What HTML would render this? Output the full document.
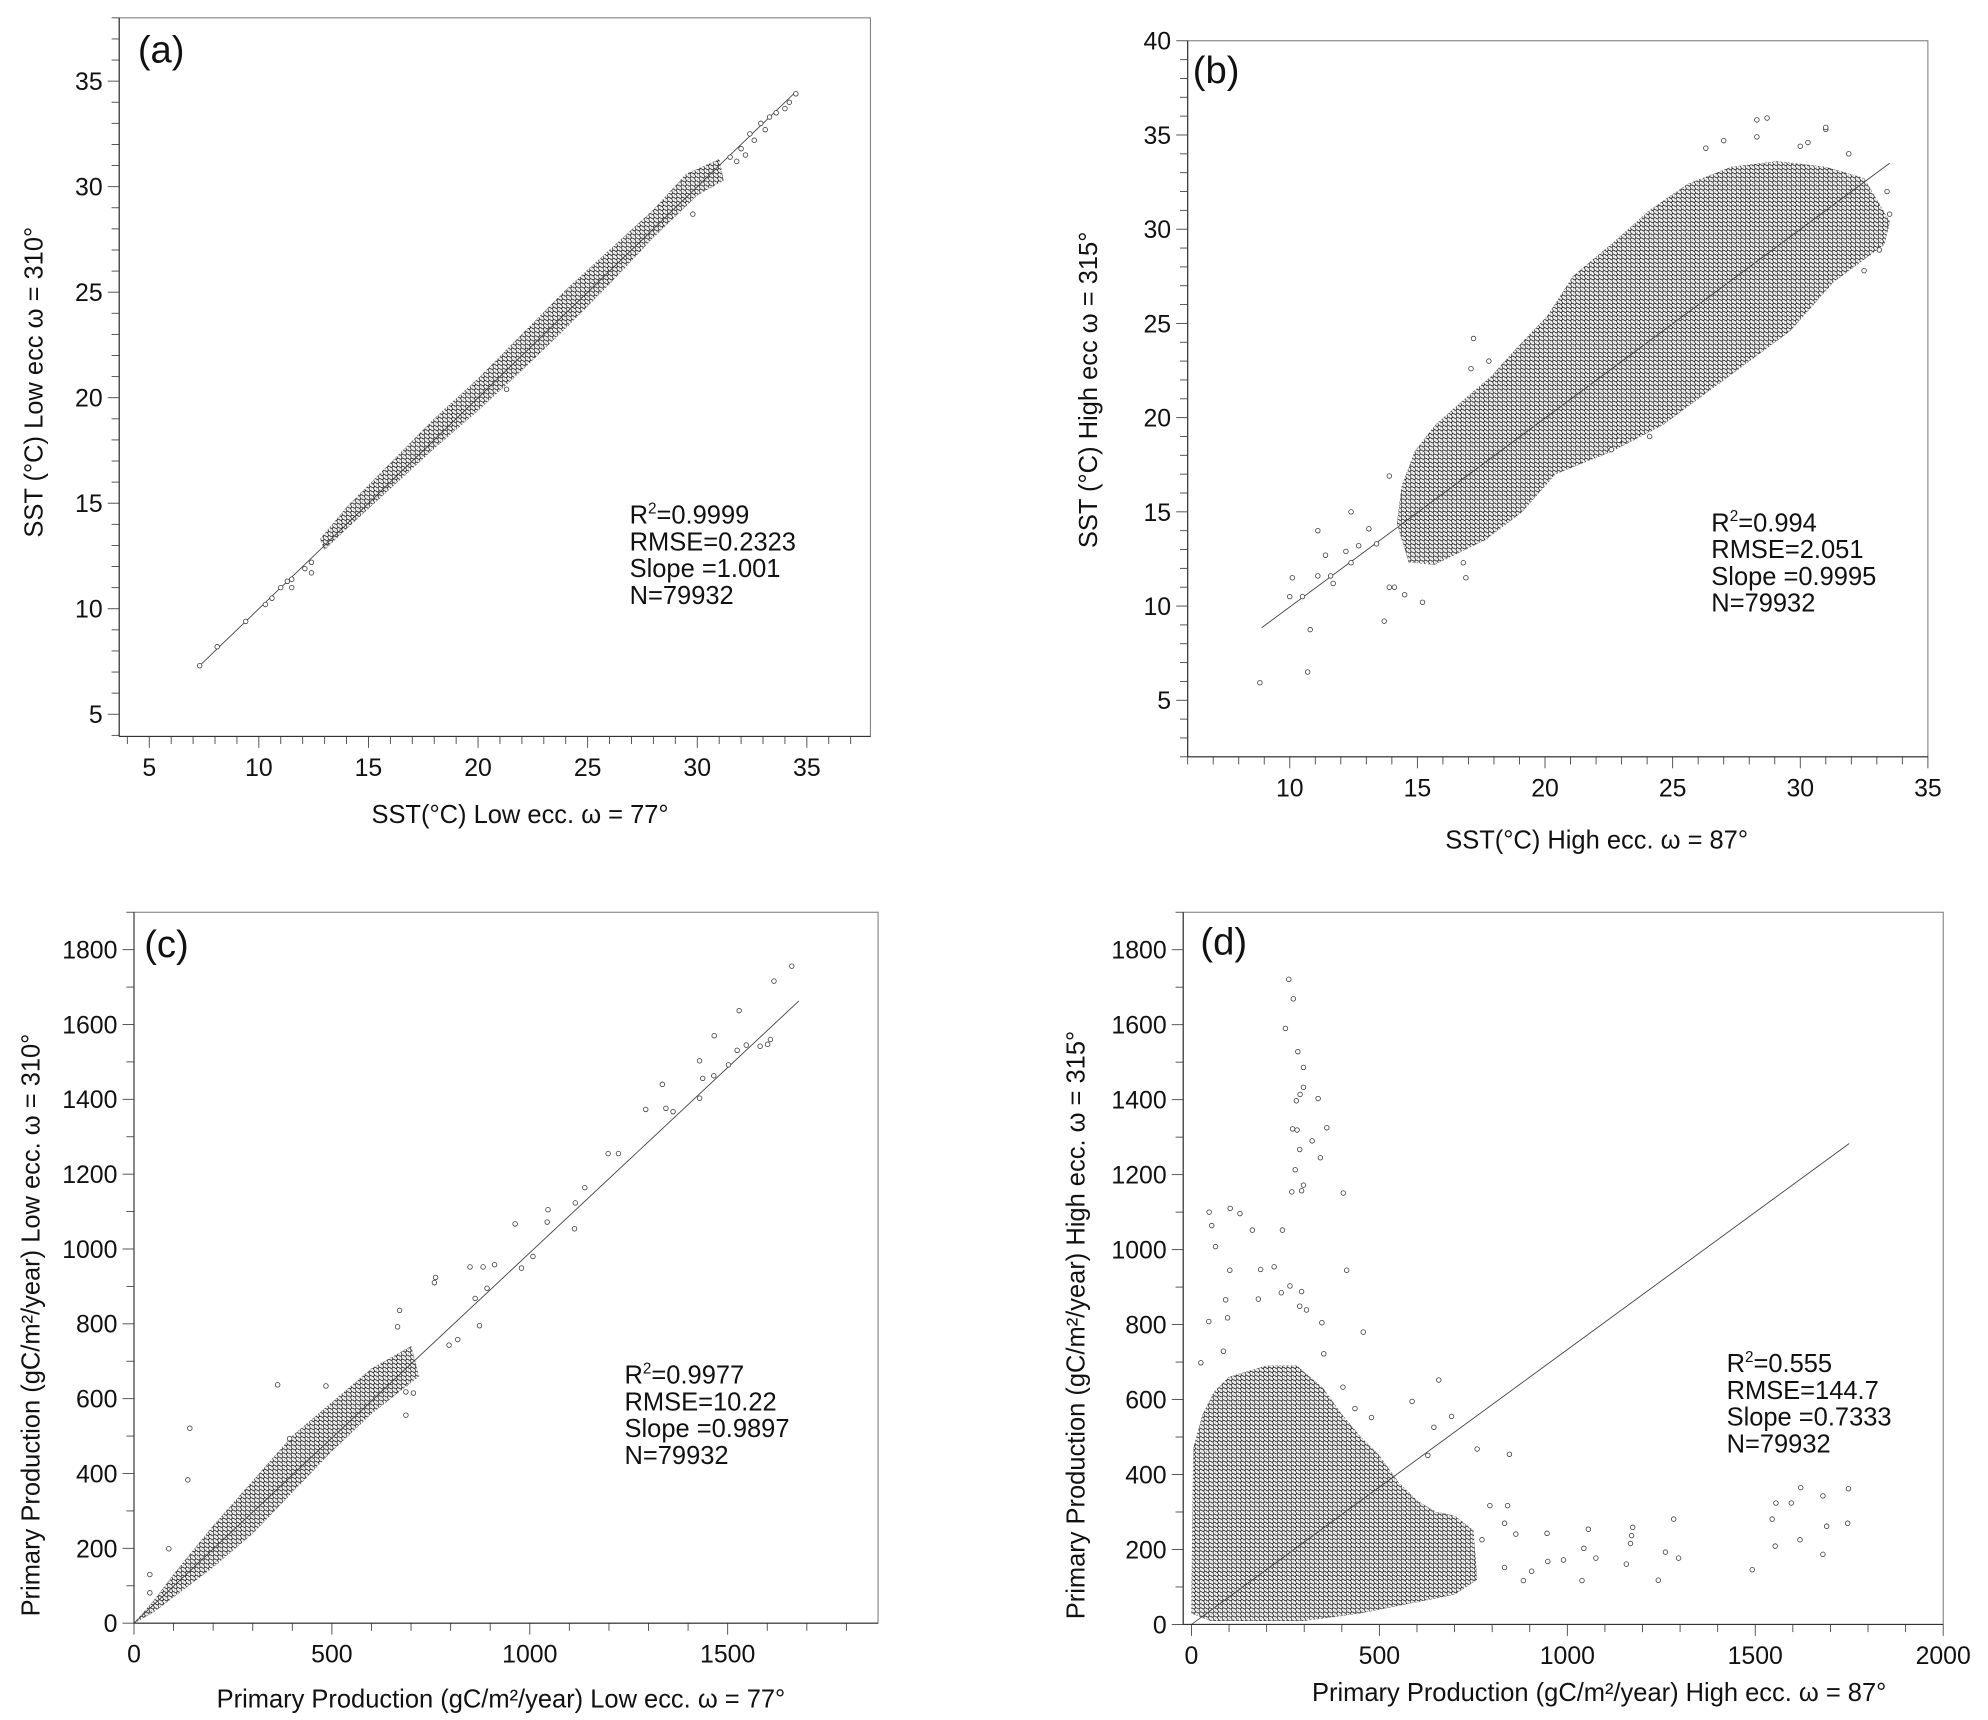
<!DOCTYPE html>
<html><head><meta charset="utf-8"><style>
html,body{margin:0;padding:0;background:#fff}
svg{display:block}
text{font-family:"Liberation Sans",Arial,sans-serif;fill:#111}
</style></head><body>
<svg id="fig" xmlns="http://www.w3.org/2000/svg" width="1988" height="1720" viewBox="0 0 1560 1350">
<defs>
<pattern id="dots" patternUnits="userSpaceOnUse" width="3.6" height="3.2">
<rect width="3.6" height="3.2" fill="#fff"/>
<circle cx="0.9" cy="0.8" r="1.2" fill="#fff" stroke="#111" stroke-width="0.6"/>
<circle cx="2.7" cy="2.4" r="1.2" fill="#fff" stroke="#111" stroke-width="0.6"/>
</pattern>
</defs>
</svg>
<script>
// ---- Panel (a) data ----
const aCloud=[[12.8,13.3],[14,14.8],[16,16.9],[18,19],[20,20.9],[22,23],[24,25.1],[26,27],[28,28.9],[29.5,30.6],[31,31.3],[31.2,30.3],[30,29.6],[28,27.6],[26,25.4],[24,23.3],[22,21.3],[20,19.4],[18,17.6],[16,15.7],[14,13.8],[13,12.8]];
const aPts=[[7.3,7.3],[8.1,8.2],[9.4,9.4],[10.3,10.2],[10.6,10.5],[11,11],[11.3,11.3],[11.5,11.4],[11.5,11],[12.1,11.9],[12.4,12.2],[12.4,11.7],[21.3,20.4],[29.8,28.7],[31.5,31.4],[32,31.8],[32.4,32.5],[32.6,32.2],[32.9,33],[33.3,33.3],[33.6,33.5],[34,33.7],[34.2,34],[34.5,34.4],[33.1,32.7],[31.8,31.2],[32.2,31.5]];
const aLine=[[7.3,7.3],[34.5,34.5]];
const aXTicks=[5,10,15,20,25,30,35];
const aYTicks=[5,10,15,20,25,30,35];
const aStats=["=0.9999","RMSE=0.2323","Slope =1.001","N=79932"];
// ---- Panel (b) data ----
const bCloud=[[14.66,12.33],[15.66,12.2],[17.64,13.5],[19.1,15.0],[20.4,17.0],[22.6,18.2],[24.6,19.6],[26.1,21.1],[28.1,23.1],[29.6,24.6],[31.3,27.2],[32.5,28.4],[33.3,29.2],[33.5,30.4],[32.5,32.7],[31.0,33.3],[29.1,33.6],[27.3,33.3],[25.6,32.4],[24.1,31.0],[22.6,29.2],[21.1,27.5],[20.1,25.4],[18.9,23.7],[17.9,22.2],[16.7,20.8],[15.7,19.6],[14.9,18.2],[14.4,16.4],[14.2,14.4]];
const bPts=[[8.83,5.93],[10.7,6.5],[10.8,8.75],[10,10.5],[10.1,11.5],[10.5,10.5],[11.1,14.0],[11.1,11.6],[11.4,12.7],[11.6,11.6],[11.7,11.2],[12.4,15.0],[12.4,12.3],[13.1,14.1],[13.7,9.2],[13.9,11.0],[14.1,11.0],[14.5,10.6],[15.2,10.2],[13.9,16.9],[16.8,12.3],[16.9,11.5],[17.2,24.2],[17.1,22.6],[17.8,23.0],[26.3,34.3],[27.0,34.7],[28.3,34.9],[28.3,35.8],[28.7,35.9],[30.0,34.4],[30.3,34.6],[31.0,35.3],[31.0,35.4],[31.9,34.0],[33.4,32.0],[33.5,30.8],[33.1,28.9],[32.5,27.8],[22.9,18.8],[24.1,19.0],[22.6,18.3],[12.2,12.9],[12.7,13.2],[13.4,13.3]];
const bLine=[[8.9,8.85],[33.5,33.5]];
const bXTicks=[10,15,20,25,30,35];
const bYTicks=[5,10,15,20,25,30,35,40];
const bStats=["=0.994","RMSE=2.051","Slope =0.9995","N=79932"];
// ---- Panel (c) data ----
const cCloud=[[0,0],[50,60],[100,130],[200,260],[300,380],[400,500],[500,590],[600,680],[700,740],[720,660],[600,560],[500,460],[400,350],[300,240],[200,150],[100,70],[50,30]];
const cPts=[[1662,1756],[1617,1716],[1529,1637],[1466,1570],[1429,1503],[1437,1456],[1465,1463],[1502,1492],[1524,1531],[1547,1545],[1582,1542],[1601,1547],[1608,1560],[1429,1403],[1335,1440],[1344,1376],[1362,1367],[1293,1373],[1198,1255],[1224,1255],[1139,1164],[1115,1123],[1113,1054],[1046,1105],[1044,1072],[1008,980],[963,1067],[979,949],[911,958],[882,952],[849,952],[892,895],[862,868],[873,795],[818,758],[796,743],[762,924],[759,910],[671,836],[666,792],[485,634],[363,637],[141,521],[393,493],[88,199],[40,130],[136,383],[40,81],[687,618],[706,615],[687,556]];
const cLine=[[0,0],[1680,1663]];
const cXTicks=[0,500,1000,1500];
const cYTicks=[0,200,400,600,800,1000,1200,1400,1600,1800];
const cStats=["=0.9977","RMSE=10.22","Slope =0.9897","N=79932"];
// ---- Panel (d) data ----
const dCloud=[[0,30],[5,470],[30,560],[60,620],[100,660],[200,690],[280,690],[350,630],[400,560],[450,500],[500,450],[550,380],[600,330],[650,300],[700,290],[750,250],[760,120],[700,80],[600,60],[450,30],[300,10],[150,10],[50,10]];
const dPts=[[259,1721],[271,1669],[250,1590],[283,1528],[298,1486],[298,1433],[289,1414],[279,1397],[337,1403],[360,1325],[269,1322],[281,1319],[288,1267],[321,1290],[343,1245],[276,1213],[298,1172],[293,1157],[267,1154],[404,1151],[103,1110],[129,1096],[47,1100],[54,1064],[64,1008],[242,1052],[162,1052],[220,954],[184,947],[102,945],[413,945],[91,866],[96,818],[46,808],[178,868],[239,885],[262,903],[293,888],[288,849],[306,839],[347,805],[457,780],[352,722],[25,698],[85,729],[403,633],[435,576],[479,552],[587,595],[658,652],[692,555],[629,451],[645,526],[760,468],[846,454],[841,317],[794,317],[833,270],[773,226],[863,241],[833,152],[883,117],[905,142],[946,243],[948,168],[990,172],[1039,117],[1044,203],[1056,254],[1076,177],[1157,161],[1168,216],[1171,237],[1174,259],[1242,118],[1261,193],[1283,281],[1296,177],[1492,146],[1545,281],[1553,209],[1555,324],[1596,324],[1619,226],[1621,365],[1680,343],[1690,262],[1680,187],[1746,270],[1748,362]];
const dLine=[[0,0],[1750,1283]];
const dXTicks=[0,500,1000,1500,2000];
const dYTicks=[0,200,400,600,800,1000,1200,1400,1600,1800];
const dStats=["=0.555","RMSE=144.7","Slope =0.7333","N=79932"];

const NS="http://www.w3.org/2000/svg";
const svg=document.getElementById('fig');
function mk(tag,attrs,parent){const e=document.createElementNS(NS,tag);for(const k in attrs)e.setAttribute(k,attrs[k]);(parent||svg).appendChild(e);return e;}

function panel(cfg,cloud,pts,line,xt,yt,stats){
  const g=mk('g',{});
  
  
  const sx=v=>cfg.x0+(v-cfg.xd[0])/(cfg.xd[1]-cfg.xd[0])*(cfg.x1-cfg.x0);
  const sy=v=>cfg.y1-(v-cfg.yd[0])/(cfg.yd[1]-cfg.yd[0])*(cfg.y1-cfg.y0);
  const box=mk('rect',{x:cfg.x0,y:cfg.y0,width:cfg.x1-cfg.x0,height:cfg.y1-cfg.y0,fill:'none',stroke:'#777','stroke-width':0.8},g);
  
  
  for(let v=Math.ceil(cfg.xd[0]/cfg.xm)*cfg.xm; v<=cfg.xd[1]+1e-9; v+=cfg.xm){
    const X=sx(v);const major=xt.some(t=>Math.abs(t-v)<1e-6);
    mk('line',{x1:X,x2:X,y1:cfg.y1,y2:cfg.y1+(major?9:6),stroke:'#444','stroke-width':0.7},g);
  }
  for(let v=Math.ceil(cfg.yd[0]/cfg.ym)*cfg.ym; v<=cfg.yd[1]+1e-9; v+=cfg.ym){
    const Y=sy(v);const major=yt.some(t=>Math.abs(t-v)<1e-6);
    mk('line',{x1:cfg.x0-(major?9:6),x2:cfg.x0,y1:Y,y2:Y,stroke:'#444','stroke-width':0.7},g);
  }
  mk('line',{x1:cfg.x0,x2:cfg.x1,y1:cfg.y1,y2:cfg.y1,stroke:'#333','stroke-width':0.9},g);
  mk('line',{x1:cfg.x0,x2:cfg.x0,y1:cfg.y0,y2:cfg.y1,stroke:'#333','stroke-width':0.9},g);
  xt.forEach(t=>{const e=mk('text',{x:sx(t),y:cfg.y1+31,'text-anchor':'middle','font-size':19.5},g);e.textContent=t;
    
    });
  yt.forEach(t=>{const e=mk('text',{x:cfg.x0-13,y:sy(t)+7,'text-anchor':'end','font-size':19.5},g);e.textContent=t;
    
    });
  const poly=mk('polygon',{points:cloud.map(p=>sx(p[0])+','+sy(p[1])).join(' '),fill:'url(#dots)',stroke:'#666','stroke-width':0.4,'stroke-dasharray':'1.5 1.5'},g);
  
  
  const ln=mk('line',{x1:sx(line[0][0]),y1:sy(line[0][1]),x2:sx(line[1][0]),y2:sy(line[1][1]),stroke:'#444','stroke-width':0.7},g);
  
  
  pts.forEach(p=>{const c=mk('circle',{cx:sx(p[0]),cy:sy(p[1]),r:1.8,fill:'#fff',stroke:'#333','stroke-width':0.6},g);
    
    });
  const lb=mk('text',{x:cfg.lx,y:cfg.ly,'font-size':30},g);lb.textContent='('+cfg.id+')';
  
  
  const st=mk('text',{x:cfg.sx,y:cfg.sy,'font-size':20},g);
  
  
  stats.forEach((s,i)=>{
    const ts=mk('tspan',{x:cfg.sx,dy:i?21:0},st);
    if(i===0){ts.textContent='R';const sp=mk('tspan',{dy:-8,'font-size':12},st);sp.textContent='2';const r=mk('tspan',{dy:8},st);r.textContent=s;}
    else ts.textContent=s;
  });
  const xtl=mk('text',{x:cfg.xtx,y:cfg.xty,'text-anchor':'middle','font-size':20},g);xtl.textContent=cfg.xTitle;
  
  
  const ytl=mk('text',{x:0,y:0,'text-anchor':'middle','font-size':20,transform:`translate(${cfg.ytx},${cfg.yty}) rotate(-90)`},g);ytl.textContent=cfg.yTitle;
  
  
}

panel({id:'a',x0:93.4,x1:683,y0:14,y1:578,xd:[3.63,37.9],yd:[3.95,38],xm:1,ym:1,lx:108,ly:49,sx:494,sy:411,
  xtx:408,xty:646,ytx:33,yty:300,xTitle:'SST(°C) Low ecc.  ω = 77°',yTitle:'SST (°C) Low ecc ω = 310°'},aCloud,aPts,aLine,aXTicks,aYTicks,aStats);
panel({id:'b',x0:932,x1:1513,y0:32,y1:594,xd:[6,35],yd:[2,40],xm:1,ym:1,lx:936,ly:65,sx:1343,sy:417,
  xtx:1253,xty:666,ytx:861,yty:306,xTitle:'SST(°C) High ecc.  ω = 87°',yTitle:'SST (°C) High ecc ω = 315°'},bCloud,bPts,bLine,bXTicks,bYTicks,bStats);
panel({id:'c',x0:105,x1:689,y0:716,y1:1274,xd:[0,1880],yd:[0,1900],xm:100,ym:100,lx:113,ly:751,sx:490,sy:1086,
  xtx:393,xty:1340,ytx:31,yty:1040,xTitle:'Primary Production (gC/m²/year) Low ecc. ω = 77°',yTitle:'Primary Production (gC/m²/year) Low ecc. ω = 310°'},cCloud,cPts,cLine,cXTicks,cYTicks,cStats);
panel({id:'d',x0:928.5,x1:1525,y0:716,y1:1275,xd:[-22,2000],yd:[0,1900],xm:100,ym:100,lx:942,ly:749,sx:1355,sy:1077,
  xtx:1255,xty:1335,ytx:851,yty:1040,xTitle:'Primary Production (gC/m²/year) High ecc. ω = 87°',yTitle:'Primary Production (gC/m²/year) High ecc. ω = 315°'},dCloud,dPts,dLine,dXTicks,dYTicks,dStats);
</script>
</body></html>
